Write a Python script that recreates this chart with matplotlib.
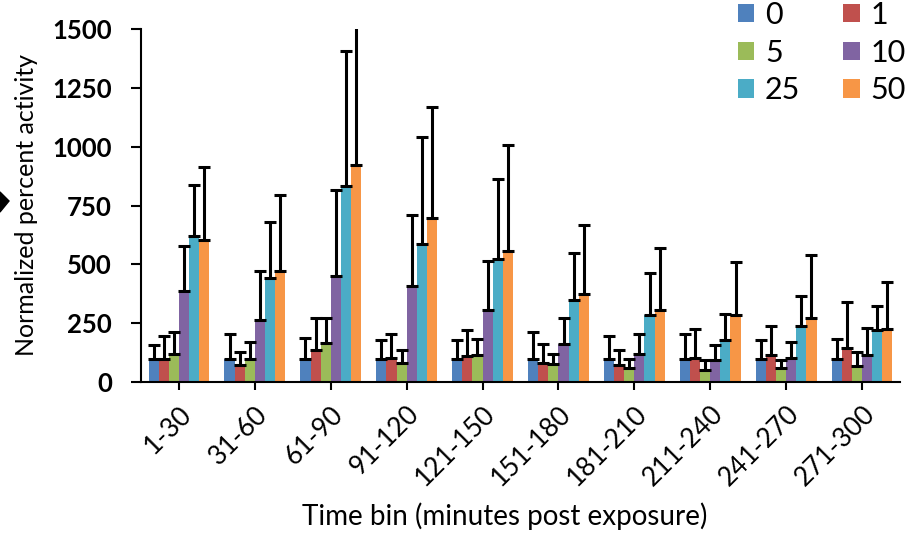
import matplotlib
matplotlib.use("Agg")
import matplotlib.pyplot as plt
import numpy as np
from matplotlib.patches import Polygon

plt.rcParams["font.family"] = ["Lato", "DejaVu Sans"]

categories = ["1-30", "31-60", "61-90", "91-120", "121-150", "151-180",
              "181-210", "211-240", "241-270", "271-300"]
series_names = ["0", "1", "5", "10", "25", "50"]
colors = ["#4F81BD", "#C0504D", "#9BBB59", "#8064A2", "#4BACC6", "#F79646"]

# bar heights per series (one value per time bin)
s0 = [98, 98, 98, 98, 98, 98, 98, 98, 98, 98]
s1 = [98, 71, 137, 104, 112, 81, 71, 104, 113, 144]
s5 = [120, 98, 166, 81, 113, 78, 59, 52, 59, 69]
s10 = [385, 265, 451, 409, 307, 161, 120, 95, 102, 113]
s25 = [621, 442, 831, 587, 522, 349, 283, 180, 240, 222]
s50 = [604, 470, 920, 696, 555, 375, 307, 283, 274, 225]

# top of error bar per series
e0 = [158, 204, 187, 177, 177, 212, 194, 205, 177, 184]
e1 = [194, 127, 272, 205, 219, 161, 134, 226, 236, 338]
e5 = [211, 170, 272, 137, 184, 119, 99, 95, 95, 127]
e10 = [576, 473, 814, 710, 516, 272, 205, 158, 170, 229]
e25 = [838, 678, 1407, 1043, 863, 550, 465, 290, 366, 324]
e50 = [915, 795, 1560, 1168, 1008, 668, 569, 508, 541, 423]

values = [s0, s1, s5, s10, s25, s50]
tops = [e0, e1, e5, e10, e25, e50]

fig = plt.figure(figsize=(9.09, 5.33), dpi=100)
ax = fig.add_axes([141/909, 1-382/533, (900-141)/909, (382-29)/533])

n = len(series_names)
group_w = 0.8
bw = group_w / n
x = np.arange(len(categories))
handles = []
for i in range(n):
    pos = x - group_w/2 + bw*(i+0.5)
    v = np.array(values[i])
    t = np.array(tops[i])
    h = ax.bar(pos, v, width=bw, color=colors[i], label=series_names[i], zorder=2)
    handles.append(h)
    ax.errorbar(pos, v, yerr=[np.zeros_like(v), t - v], fmt="none",
                ecolor="black", elinewidth=2.2, capsize=4.2, capthick=2.2, zorder=3)

ax.set_xlim(-0.5, len(categories) - 0.5)
ax.set_ylim(0, 1500)
ax.set_yticks([0, 250, 500, 750, 1000, 1250, 1500])
ax.set_xticks(x)
ax.set_xticklabels(categories, rotation=45, ha="right", rotation_mode="anchor",
                   fontsize=19)
for lab in ax.get_yticklabels():
    lab.set_fontsize(18.5)
    lab.set_fontweight("bold")
ax.tick_params(axis="y", direction="out", length=7, width=1.5, pad=14)
ax.tick_params(axis="x", direction="out", length=6, width=1.5, pad=8)
for s in ["top", "right"]:
    ax.spines[s].set_visible(False)
for s in ["left", "bottom"]:
    ax.spines[s].set_linewidth(1.5)

ax.set_ylabel("Normalized percent activity", fontsize=18, labelpad=10)
fig.text(505/909, 1-516/533, "Time bin (minutes post exposure)", fontsize=20,
         ha="center", va="center")

order = [0, 2, 4, 1, 3, 5]
ax.legend([handles[k] for k in order], [series_names[k] for k in order],
          ncol=2, loc="upper right", bbox_to_anchor=(1.008, 1.08),
          frameon=False, fontsize=22, handlelength=0.55, handleheight=0.55,
          handletextpad=0.35, columnspacing=1.4, labelspacing=0.32,
          borderaxespad=0.0, borderpad=0.0)

# small black diamond at the left edge
fig.patches.append(Polygon([[0/909, 1-192/533], [9/909, 1-201/533],
                            [0/909, 1-212/533], [-9/909, 1-201/533]],
                           closed=True, transform=fig.transFigure,
                           facecolor="black", edgecolor="black"))

fig.savefig("out.png", dpi=100)
